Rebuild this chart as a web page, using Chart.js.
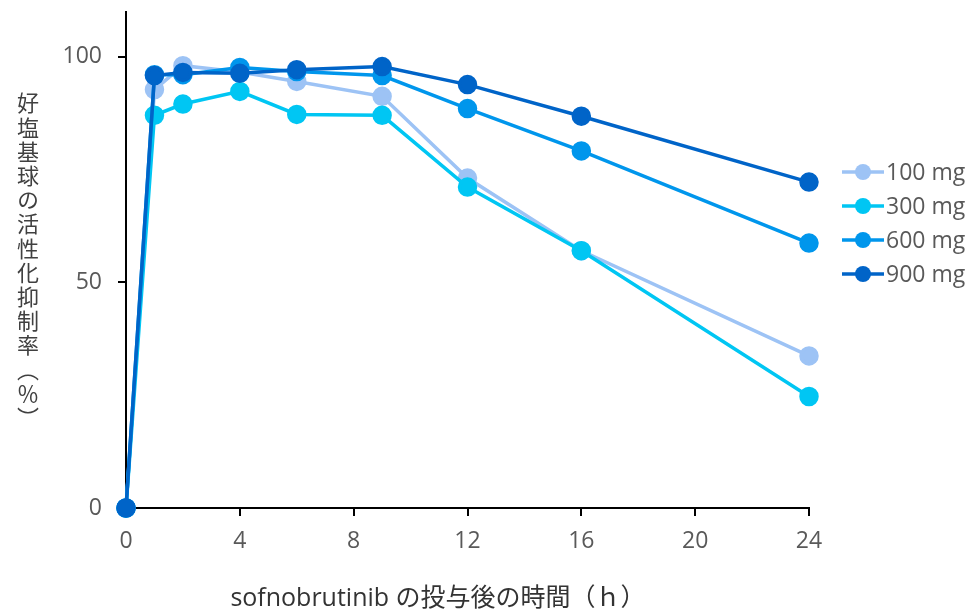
<!DOCTYPE html>
<html>
<head>
<meta charset="utf-8">
<script src="https://cdn.jsdelivr.net/npm/chart.js@4"></script>
<style>
    html, body { margin: 0; padding: 0; background: #fff; }
    #wrap { position: relative; width: 974px; height: 612px; }
    #yTitle {
        position: absolute; left: 17px; top: 92px;
        writing-mode: vertical-rl; line-height: 1;
        font-family: "Noto Sans CJK JP", "Open Sans", sans-serif;
        font-size: 22px; letter-spacing: 2.2px; color: #404040;
    }
    #xTitle {
        position: absolute; left: 438px; top: 581px; transform: translateX(-50%);
        white-space: nowrap; line-height: 1.2;
        font-family: "Open Sans", "Noto Sans CJK JP", sans-serif;
        font-size: 25px; color: #333;
    }
</style>
</head>
<body>
<div id="wrap">
    <canvas id="chart" width="974" height="612"></canvas>
    <div id="yTitle">好塩基球の活性化抑制率（％）</div>
    <div id="xTitle">sofnobrutinib の投与後の時間（ｈ）</div>
</div>
<script>
// Data
const hours = [0, 1, 2, 4, 6, 9, 12, 16, 24];
const dose100 = [0, 92.7, 98, 96.6, 94.5, 91.2, 73.1, 57, 33.7];
const dose300 = [0, 87, 89.5, 92.3, 87.2, 87, 71.1, 57, 24.7];
const dose600 = [0, 96, 96, 97.6, 96.7, 95.8, 88.5, 79.1, 58.7];
const dose900 = [0, 95.8, 96.5, 96.3, 97.1, 97.8, 93.8, 86.8, 72.2];
const doseLabels = ["100 mg", "300 mg", "600 mg", "900 mg"];
const doseColors = ["#9dc3f5", "#00c6f3", "#0096ec", "#0064c8"];
const xTicks = [0, 4, 8, 12, 16, 20, 24];
const yTicks = [0, 50, 100];

const tickColor = "#595959";
const tickFont = { family: "'Open Sans', sans-serif", size: 23 };

function makeSet(i, values) {
    return {
        label: doseLabels[i],
        data: hours.map((h, k) => ({ x: h, y: values[k] })),
        borderColor: doseColors[i],
        backgroundColor: doseColors[i],
        pointBackgroundColor: doseColors[i],
        pointBorderColor: doseColors[i],
        borderWidth: 3.5,
        pointRadius: 8,
        pointHoverRadius: 8,
        tension: 0,
        clip: false,
        order: 4 - i
    };
}

// Legend: line with circle marker, like the original
const sideLegend = {
    id: "sideLegend",
    afterDraw(chart) {
        const ctx = chart.ctx;
        ctx.save();
        chart.data.datasets.forEach((ds, i) => {
            const y = 172 + i * 34;
            ctx.strokeStyle = ds.borderColor;
            ctx.lineWidth = 3.5;
            ctx.beginPath();
            ctx.moveTo(842, y);
            ctx.lineTo(884, y);
            ctx.stroke();
            ctx.fillStyle = ds.borderColor;
            ctx.beginPath();
            ctx.arc(863, y, 8, 0, Math.PI * 2);
            ctx.fill();
            ctx.fillStyle = tickColor;
            ctx.font = "23px 'Open Sans', sans-serif";
            ctx.textAlign = "left";
            ctx.textBaseline = "middle";
            ctx.fillText(ds.label, 886, y + 1);
        });
        ctx.restore();
    }
};

new Chart(document.getElementById("chart"), {
    type: "line",
    data: {
        datasets: [
            makeSet(0, dose100),
            makeSet(1, dose300),
            makeSet(2, dose600),
            makeSet(3, dose900)
        ]
    },
    options: {
        responsive: false,
        animation: false,
        layout: { padding: { left: 0, right: 165, top: 10, bottom: 0 } },
        plugins: {
            legend: { display: false },
            tooltip: { enabled: false }
        },
        scales: {
            x: {
                type: "linear",
                min: 0,
                max: 24,
                afterBuildTicks: (s) => { s.ticks = xTicks.map(v => ({ value: v })); },
                afterFit: (s) => { s.height = 104; s.paddingLeft = 0; s.paddingRight = 0; },
                ticks: { color: tickColor, font: tickFont, padding: 12 },
                grid: { drawOnChartArea: false, drawTicks: true, tickLength: 8, color: "#000", lineWidth: 2 },
                border: { display: true, color: "#000", width: 2 }
            },
            y: {
                min: 0,
                max: 110,
                afterBuildTicks: (s) => { s.ticks = yTicks.map(v => ({ value: v })); },
                afterFit: (s) => { s.width = 126; s.paddingTop = 0; s.paddingBottom = 0; },
                ticks: { color: tickColor, font: tickFont, padding: 16 },
                grid: { drawOnChartArea: false, drawTicks: true, tickLength: 8, color: "#000", lineWidth: 2 },
                border: { display: true, color: "#000", width: 2 }
            }
        }
    },
    plugins: [sideLegend]
});
</script>
</body>
</html>
